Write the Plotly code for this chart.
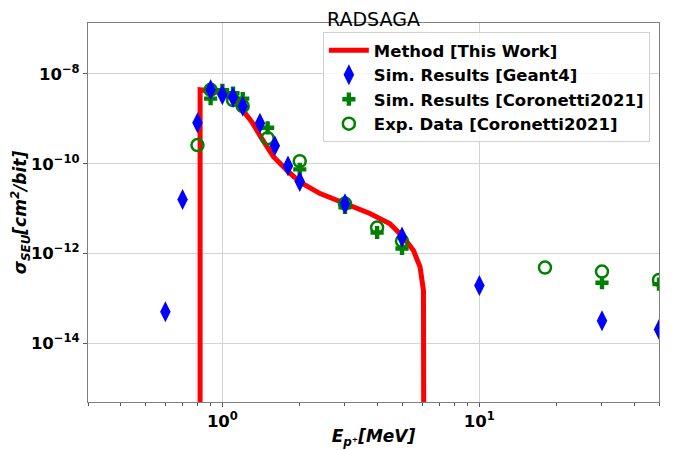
import plotly.graph_objects as go
import numpy as np

# Method [This Work] curve
method_x = [0.819, 0.819, 0.9, 1.0, 1.12, 1.30, 1.42, 1.58, 1.78, 2.0, 2.40, 2.87, 3.43, 3.75, 4.49, 5.06, 5.54, 5.88, 6.06, 6.08]
method_y = [1e-17, 4.4e-9, 4.2e-9, 3.7e-9, 2.6e-9, 8.6e-10, 3.7e-10, 1.43e-10, 7.2e-11, 3.95e-11, 2.17e-11, 1.41e-11, 9.2e-12, 7.8e-12, 4.6e-12, 2.33e-12, 1.18e-12, 5e-13, 1.5e-13, 1e-17]

# Sim. Results [Geant4]
geant_x = [0.6, 0.7, 0.8, 0.9, 1.0, 1.1, 1.2, 1.4, 1.6, 1.8, 2.0, 3.0, 5.0, 10.0, 30.0, 50.0]
geant_y = [5.1e-14, 1.6e-11, 8.2e-10, 4.4e-9, 3.4e-9, 3.0e-9, 1.9e-9, 7.9e-10, 2.5e-10, 8.9e-11, 4.0e-11, 1.28e-11, 2.35e-12, 1.96e-13, 3.2e-14, 2.05e-14]

# Sim. Results [Coronetti2021]
cor_sim_x = [0.9, 1.0, 1.1, 1.2, 1.5, 2.0, 3.0, 4.0, 5.0, 30.0, 50.0]
cor_sim_y = [2.8e-9, 4.3e-9, 3.7e-9, 2.8e-9, 6.3e-10, 7.5e-11, 1.07e-11, 2.95e-12, 1.3e-12, 2.25e-13, 2.1e-13]

# Exp. Data [Coronetti2021]
exp_x = [0.8, 0.9, 1.1, 1.2, 1.5, 2.0, 3.0, 4.0, 5.0, 18.0, 30.0, 50.0]
exp_y = [2.6e-10, 4.4e-9, 2.6e-9, 1.9e-9, 3.7e-10, 1.14e-10, 1.3e-11, 3.8e-12, 1.9e-12, 4.9e-13, 4.0e-13, 2.6e-13]

y_tick_vals = [1e-8, 1e-10, 1e-12, 1e-14]
y_tick_text = ["10<sup>−8</sup>", "10<sup>−10</sup>", "10<sup>−12</sup>", "10<sup>−14</sup>"]
x_tick_vals = [1, 10]
x_tick_text = ["10<sup>0</sup>", "10<sup>1</sup>"]
x_minor_vals = [0.3, 0.4, 0.5, 0.6, 0.7, 0.8, 0.9, 2, 3, 4, 5, 6, 7, 8, 9, 20, 30, 40, 50]

fig = go.Figure()
fig.add_trace(go.Scatter(x=method_x, y=method_y, mode="lines", name="Method [This Work]",
                         line=dict(color="#ff0000", width=5), legendrank=1))
fig.add_trace(go.Scatter(x=exp_x, y=exp_y, mode="markers", name="Exp. Data [Coronetti2021]",
                         marker=dict(symbol="circle-open", size=12, color="green", line=dict(width=2.5, color="green")),
                         legendrank=4))
fig.add_trace(go.Scatter(x=cor_sim_x, y=cor_sim_y, mode="markers", name="Sim. Results [Coronetti2021]",
                         marker=dict(symbol="cross", size=11, color="green", line=dict(width=0)),
                         legendrank=3))
fig.add_trace(go.Scatter(x=geant_x, y=geant_y, mode="markers", name="Sim. Results [Geant4]",
                         marker=dict(symbol="diamond-tall", size=15, color="blue", line=dict(width=0)),
                         legendrank=2))

font_family = "DejaVu Sans"
fig.update_layout(
    width=667, height=442,
    margin=dict(l=80, r=16, t=15, b=48, autoexpand=False),
    paper_bgcolor="white", plot_bgcolor="white",
    font=dict(family=font_family, color="black"),
    title=dict(text="RADSAGA", x=0.5, xref="paper", xanchor="center", y=0.974, yref="container", yanchor="middle",
               font=dict(size=19, family=font_family, color="black")),
    showlegend=True,
    legend=dict(x=0.984, xanchor="right", y=0.976, yanchor="top",
                bgcolor="rgba(255,255,255,0.8)", bordercolor="#d0d0d0", borderwidth=1,
                font=dict(size=16.5, family=font_family, weight="bold", color="black"),
                tracegroupgap=0, itemwidth=40),
)
fig.update_xaxes(
    type="log", range=[np.log10(0.3), np.log10(50)], automargin=False,
    tickvals=x_tick_vals, ticktext=x_tick_text,
    tickfont=dict(size=16.5, family=font_family, weight="bold", color="black"),
    ticks="outside", ticklen=4, tickcolor="#555555",
    showgrid=True, gridcolor="#d3d3d3", gridwidth=1,
    showline=True, linecolor="#808080", linewidth=1.2, mirror=True,
    minor=dict(tickvals=x_minor_vals, ticks="outside", ticklen=2.5, tickcolor="#555555", showgrid=False),
    title=dict(text="<b><i>E<sub>p⁺</sub>[MeV]</i></b>", font=dict(size=17, family=font_family), standoff=0),
    zeroline=False,
)
fig.update_yaxes(
    type="log", range=[-15.3, -6.87], automargin=False,
    tickvals=y_tick_vals, ticktext=y_tick_text,
    tickfont=dict(size=16.5, family=font_family, weight="bold", color="black"),
    ticks="outside", ticklen=4, tickcolor="#555555",
    showgrid=True, gridcolor="#d3d3d3", gridwidth=1,
    showline=True, linecolor="#808080", linewidth=1.2, mirror=True,
    title=dict(text="<b><i>σ<sub>SEU</sub>[cm<sup>2</sup>/bit]</i></b>", font=dict(size=17, family=font_family), standoff=0),
    zeroline=False,
)

fig.write_html("out.html")
